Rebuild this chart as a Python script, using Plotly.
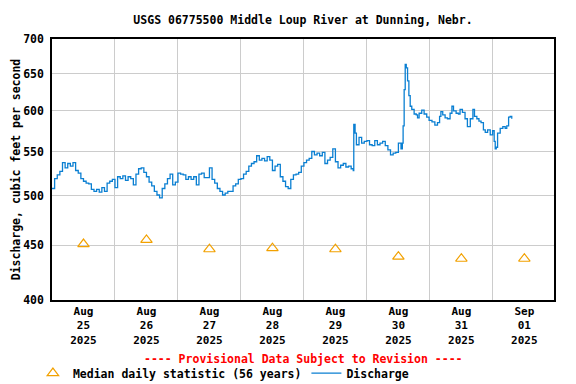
import math
import pandas as pd
import plotly.graph_objects as go

# ---------------- data ----------------
title_text = "USGS 06775500 Middle Loup River at Dunning, Nebr."
y_title = "Discharge, cubic feet per second"

# hours after 2025-08-25 00:00 and discharge (cfs)
discharge_hours = [
    0, 1, 2, 3, 4, 5, 6, 7, 8, 9, 10, 11, 12, 13, 14, 15, 16, 17, 18, 19,
    20, 21, 22, 23, 24, 25, 26, 27, 28, 29, 30, 31, 32, 33, 34, 35, 36, 37, 38, 39,
    40, 41, 42, 43, 44, 45, 46, 47, 48, 49, 50, 51, 52, 53, 54, 55, 56, 57, 58, 59,
    60, 61, 62, 63, 64, 65, 66, 67, 68, 69, 70, 71, 72, 73, 74, 75, 76, 77, 78, 79,
    80, 81, 82, 83, 84, 85, 86, 87, 88, 89, 90, 91, 92, 93, 94, 95, 96, 97, 98, 99,
    100, 101, 102, 103, 104, 105, 106, 107, 108, 109, 110,
    111, 112, 113, 114, 114.8, 115, 115.5, 116, 117, 118, 119, 120, 121, 122, 123,
    124, 125, 126, 127, 128, 129, 130, 131, 132, 133, 133.5, 133.8, 134.2, 134.6,
    135.0, 135.5, 136.0, 136.5, 137.1, 138, 138.8, 139.3, 139.9, 140.9, 141.8,
    142.8, 143.7, 144.8, 145.9, 146.9, 147.7, 148.2, 148.9, 149.8, 150.7, 151.7,
    152.4, 153, 154, 154.9, 155.5, 156.4, 157.4, 158.3, 159.4, 160.4, 161, 161.9,
    162.7, 163.5, 164.4, 165.1, 166, 167, 167.9, 168.5, 168.9, 169.3, 169.8,
    170.8, 171.8, 172.7, 173.3, 174, 174.6, 175.2,
]
discharge_cfs = [
    508, 519, 523, 527, 537, 531, 536, 533, 537, 528, 525, 519, 516, 514, 513, 507, 505, 507, 504, 509,
    505, 514, 516, 518, 509, 521, 519, 522, 517, 521, 519, 512, 524, 530, 531, 526, 521, 515, 511, 505,
    501, 498, 508, 513, 519, 524, 512, 515, 525, 524, 523, 518, 521, 518, 521, 512, 524, 525, 520, 520,
    531, 518, 514, 508, 505, 501, 503, 505, 505, 511, 513, 518, 519, 524, 527, 533, 536, 538, 545, 540,
    542, 539, 544, 540, 528, 533, 535, 521, 516, 510, 508, 518, 523, 524, 526, 533, 537, 540, 542, 550,
    546, 548, 545, 549, 536, 540, 543, 553, 538, 531, 534,
    536, 532, 533, 530, 528, 583, 572, 558, 567, 560, 562, 563, 558, 557, 563,
    558, 560, 562, 557, 552, 546, 548, 549, 560, 553, 560, 581, 628, 663,
    658, 640, 620, 606, 602, 596, 595, 591, 597, 601, 596,
    592, 588, 586, 582, 585, 593, 599, 595, 591, 590, 597,
    606, 600, 597, 596, 602, 598, 590, 580, 590, 602, 593, 590,
    587, 585, 576, 573, 576, 570, 575, 562, 553, 555, 572,
    578, 580, 578, 581, 592, 593, 590,
]

median_days = ["2025-08-25", "2025-08-26", "2025-08-27", "2025-08-28",
               "2025-08-29", "2025-08-30", "2025-08-31", "2025-09-01"]
median_cfs = [451, 455, 446, 447, 446, 439, 437, 437]

x_tick_text = ["Aug<br>25<br>2025", "Aug<br>26<br>2025", "Aug<br>27<br>2025",
               "Aug<br>28<br>2025", "Aug<br>29<br>2025", "Aug<br>30<br>2025",
               "Aug<br>31<br>2025", "Sep<br>01<br>2025"]
y_tick_vals = [400, 450, 500, 550, 600, 650, 700]

# ---------------- figure ----------------
FONT = "DejaVu Sans Mono"
W, H = 568, 376          # page body has an 8px margin
base = pd.Timestamp("2025-08-25 00:00")
times = [base + pd.Timedelta(hours=h) for h in discharge_hours]
noons = [pd.Timestamp(d) + pd.Timedelta(hours=12) for d in median_days]
midnights = [pd.Timestamp(d) for d in median_days[1:]]

fig = go.Figure()
fig.add_trace(go.Scatter(
    x=noons, y=median_cfs, mode="markers",
    name="Median daily statistic (56 years)",
    marker=dict(symbol="triangle-up-open", size=10, color="#f2a100",
                line=dict(width=1.2, color="#f2a100")),
))
fig.add_trace(go.Scatter(
    x=times, y=discharge_cfs, mode="lines", name="Discharge",
    line=dict(color="#0a7fd2", width=1.3, shape="hv"),
))

fig.update_layout(
    width=W, height=H,
    margin=dict(l=44, r=22, t=31, b=84, autoexpand=False),
    paper_bgcolor="white", plot_bgcolor="white",
    font=dict(family=FONT, size=11.5, color="black", weight="bold"),
    title=dict(text=title_text, x=0.5, xref="paper", xanchor="center",
               y=1 - 12 / H, yanchor="middle",
               font=dict(family=FONT, size=11.5, color="black", weight="bold")),
    showlegend=True,
    legend=dict(orientation="h", x=-0.038, xanchor="left",
                y=-0.28, yanchor="middle",
                bgcolor="rgba(0,0,0,0)",
                font=dict(family=FONT, size=11.5, color="black", weight="bold"),
                itemwidth=30, tracegroupgap=0),
)

fig.update_xaxes(
    type="date", automargin=False,
    range=[base, base + pd.Timedelta(hours=191.3)],
    tickmode="array", tickvals=noons, ticktext=x_tick_text,
    ticks="", showgrid=False,
    tickfont=dict(family=FONT, size=11, color="black", weight="bold"),
    minor=dict(tickmode="array", tickvals=midnights, showgrid=True,
               gridcolor="#cccccc", gridwidth=1, ticks=""),
    showline=True, mirror=True, linecolor="black", linewidth=1.5,
    zeroline=False,
)
fig.update_yaxes(
    type="log", automargin=False,
    range=[math.log10(400), math.log10(700)],
    tickmode="array", tickvals=y_tick_vals,
    ticktext=[str(v) for v in y_tick_vals],
    ticks="", showgrid=True, gridcolor="#cccccc", gridwidth=1,
    tickfont=dict(family=FONT, size=11.5, color="black", weight="bold"),
    ticklabelstandoff=4,
    showline=True, mirror=True, linecolor="black", linewidth=1.5,
    zeroline=False,
    title=dict(text=y_title, standoff=0,
               font=dict(family=FONT, size=11.5, color="black", weight="bold")),
)

fig.add_annotation(
    text="---- Provisional Data Subject to Revision ----",
    xref="paper", yref="paper", x=0.5, y=-0.226,
    xanchor="center", yanchor="middle", showarrow=False,
    font=dict(family=FONT, size=11.5, color="red", weight="bold"),
)

fig.write_html("out.html")
